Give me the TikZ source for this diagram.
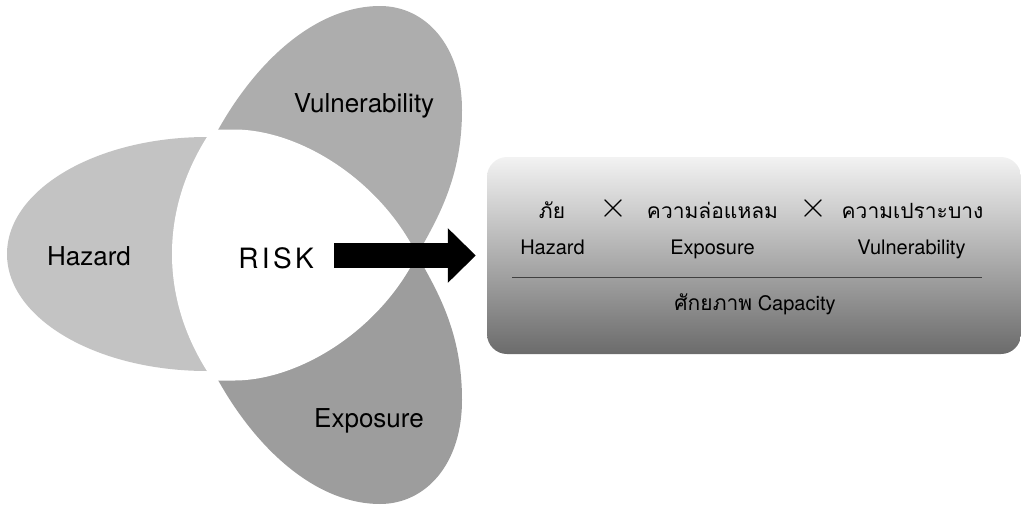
\documentclass[tikz,border=0pt]{standalone}
\usepackage{fontspec}
\usepackage{tikz}
\setmainfont{TeX Gyre Heros}
\newfontfamily\thaifont[Script=Thai]{Loma}
\usetikzlibrary{arrows.meta}
\definecolor{hazgray}{HTML}{C3C3C3}
\definecolor{vulgray}{HTML}{ADADAD}
\definecolor{expgray}{HTML}{9D9D9D}

\begin{document}
\begin{tikzpicture}[x=1pt, y=-1pt,
  lbl/.style={font=\fontsize{26}{28}\selectfont, inner sep=0pt, anchor=base},
  risklbl/.style={font=\fontsize{28}{30}\selectfont\addfontfeatures{LetterSpace=12}, inner sep=0pt, anchor=base},
  eng/.style={font=\fontsize{20}{22}\selectfont, inner sep=0pt, anchor=base},
  thai/.style={font=\fontsize{21}{24}\selectfont\thaifont, inner sep=0pt, anchor=base},
  cross/.style={font=\fontsize{14}{14}\selectfont, inner sep=0pt, scale=2.5},
  panel/.style={rounded corners=20pt, minimum width=534pt, minimum height=197pt,
    top color=black!5, middle color=black!16, bottom color=black!58, inner sep=0pt},
  bigarrow/.style={line width=25pt, -{Triangle[length=28pt, width=53pt]}}]
\useasboundingbox (0,0) rectangle (1021,506);

\fill[hazgray] (207,137) .. controls (96.5,137) and (7,189.4) .. (7,254)
  .. controls (7,318.6) and (96.5,371) .. (207,371) -- cycle;
\fill[vulgray] (417,255) .. controls (440,215) and (462,175) .. (462,110)
  .. controls (462,45) and (425,6) .. (380,6)
  .. controls (320,6) and (260,55) .. (218,130) -- cycle;
\fill[expgray] (417,255) .. controls (440,295) and (462,335) .. (462,400)
  .. controls (462,465) and (425,504) .. (380,504)
  .. controls (320,504) and (260,455) .. (218,380) -- cycle;
\fill[white] (417,255) .. controls (380,180) and (300,130) .. (235,129.5) -- (210,129.5)
  -- (207,137) .. controls (183,175) and (172,215) .. (172,254)
  .. controls (172,293) and (183,333) .. (207,371) -- (210,380.5) -- (235,380.5)
  .. controls (300,380) and (380,330) .. (417,255) -- cycle;

\draw (89,265) node (haz) [lbl] {Hazard};
\draw (364,112) node (vul) [lbl] {Vulnerability};
\draw (369,427) node (expo) [lbl] {Exposure};
\draw (276,268) node (risk) [risklbl] {RISK};

\draw (754,255.5) node (box) [panel] {};
\coordinate (tail) at (334,255.5);
\draw[bigarrow] (tail) -- ([xshift=-11pt]box.west);

\draw (552,218) node (hazth) [thai] {ภัย};
\draw (613,208) node (x1) [cross] {$\times$};
\draw (712.5,218) node (expth) [thai] {ความล่อแหลม};
\draw (813,208) node (x2) [cross] {$\times$};
\draw (912.5,218) node (vulth) [thai] {ความเปราะบาง};

\draw (552.5,254) node (hazen) [eng] {Hazard};
\draw (712.5,254) node (expen) [eng] {Exposure};
\draw (911.5,254) node (vulen) [eng] {Vulnerability};

\coordinate (ruleL) at (512,277);
\coordinate (ruleR) at (982,277);
\draw[line width=1pt, black!75] (ruleL) -- (ruleR);

\draw (755,310.5) node (cap) [eng] {{\thaifont\fontsize{21}{24}\selectfont ศักยภาพ} Capacity};

\end{tikzpicture}
\end{document}
